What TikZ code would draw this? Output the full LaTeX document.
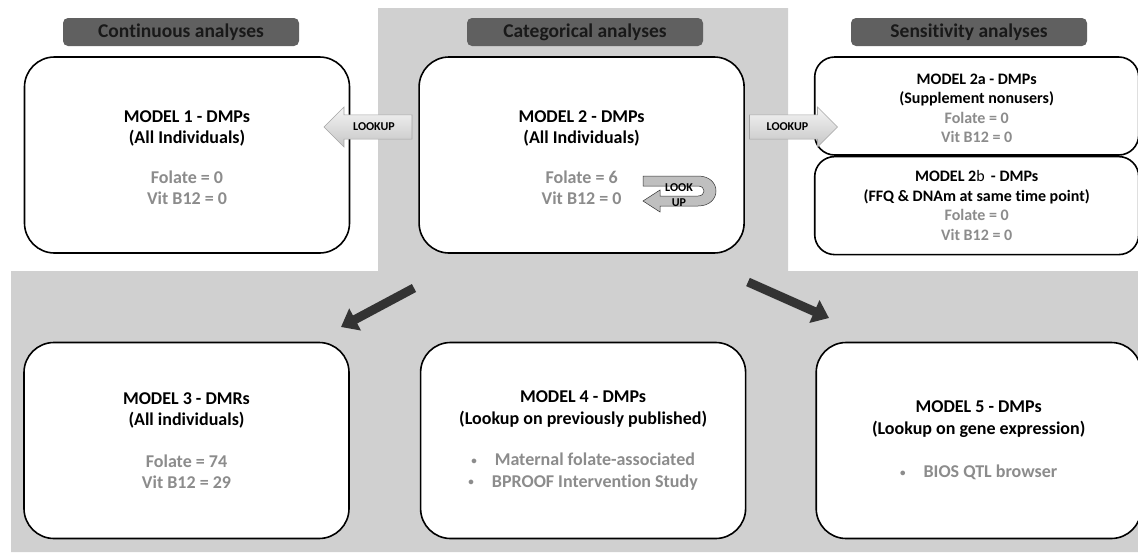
\documentclass[tikz,border=0pt]{standalone}
\usepackage{fontspec}
\setmainfont{Carlito}[Ligatures=NoCommon]
\usepackage{tikz}
\usetikzlibrary{arrows.meta,positioning,calc,shapes.arrows}
\definecolor{bgband}{HTML}{D0D0D0}
\definecolor{hdfill}{HTML}{606060}
\definecolor{valgray}{HTML}{8C8C8C}
\definecolor{arrdark}{HTML}{333333}
\newcommand{\bul}{\raisebox{1.5pt}{\fontsize{11}{11}\selectfont\textbullet}\quad}

\begin{document}
\begin{tikzpicture}[
  x=1pt, y=-1pt,
  node distance=69pt,
  model/.style={rectangle, rounded corners=30pt, draw=black, line width=1.6pt, fill=white,
                minimum width=325pt, minimum height=196pt, align=center,
                font=\fontsize{18}{21.5}\selectfont\bfseries},
  submodel/.style={model, rounded corners=20pt, minimum width=324pt, minimum height=98pt,
                   font=\fontsize{16}{19.5}\selectfont\bfseries},
  header/.style={rectangle, rounded corners=5pt, fill=hdfill, minimum width=236pt, minimum height=28pt,
                 font=\fontsize{19.5}{22}\selectfont\bfseries, text=black!90},
  lookup/.style={single arrow, draw=gray!70, top color=gray!8, bottom color=gray!45, line width=0.6pt,
                 minimum height=88pt, minimum width=40pt, text height=6pt, text depth=0pt,
                 inner xsep=2pt, inner ysep=7.5pt, font=\fontsize{12}{12}\selectfont\bfseries},
  bigarr/.style={-{Triangle[length=16pt,width=24pt]}, line width=9pt, draw=arrdark}
]
\useasboundingbox (0,0) rectangle (1138,552);
\fill[bgband] (378,8) -- (788,8) -- (788,271) -- (1138,271) -- (1138,552) -- (11,552) -- (11,271) -- (378,271) -- cycle;

\node[header] (h1) at (181,32) {Continuous analyses};
\node[header] (h2) at (585,32) {Categorical analyses};
\node[header] (h3) at (969,32) {Sensitivity analyses};

\node[model] (m1) at (187,155) {\rule{0pt}{17pt}MODEL 1 - DMPs\\(All Individuals)\\[18pt]\color{valgray}Folate = 0\\\color{valgray}Vit B12 = 0};
\node[model, right=68pt of m1] (m2) {\rule{0pt}{17pt}MODEL 2 - DMPs\\(All Individuals)\\[18pt]\color{valgray}Folate = 6\\\color{valgray}Vit B12 = 0};
\node[submodel, anchor=north west] (m2a) at ([xshift=69pt]m2.north east) {\rule{0pt}{15pt}MODEL 2a - DMPs\\(Supplement nonusers)\\\color{valgray}Folate = 0\\\color{valgray}Vit B12 = 0};
\node[submodel, below=0pt of m2a] (m2b) {MODEL 2{\mdseries b}\, - DMPs\\(FFQ \& DNAm at same time point)\\\color{valgray}Folate = 0\\\color{valgray}Vit B12 = 0};

\node[model] (m3) at (186.5,440.5) {MODEL 3 - DMRs\\(All individuals)\\[20pt]\color{valgray}Folate = 74\\\color{valgray}Vit B12 = 29};
\node[model, right=70pt of m3] (m4) {MODEL 4 - DMPs\\(Lookup on previously published)\\[20pt]\color{valgray}\bul Maternal folate-associated\\\color{valgray}\bul BPROOF Intervention Study};
\node[model, right=of m4] (m5) {MODEL 5 - DMPs\\(Lookup on gene expression)\\[22pt]\color{valgray}\bul BIOS QTL browser};

\node[lookup, shape border rotate=180] (lk1) at (374,127) {LOOKUP};
\node[lookup] (lk2) at (787.5,127) {LOOKUP};

\filldraw[fill=gray!50, draw=gray!40!black, line width=0.5pt]
  (643,176) -- (698,176) .. controls (722,176) and (722,206) .. (698,206) -- (660,206) -- (660,212)
  -- (643,201) -- (660,190) -- (660,196) -- (698,196) .. controls (706,196) and (706,186) .. (698,186)
  -- (643,186) -- cycle;
\node[align=center, font=\fontsize{12}{15}\selectfont\bfseries, inner sep=0pt] (lkself) at (679,195) {LOOK\\UP};

\coordinate (dl0) at (414,288);
\coordinate (dl1) at (341,327);
\coordinate (dr0) at (748,282);
\coordinate (dr1) at (829,318);
\foreach \a/\b in {dl0/dl1, dr0/dr1} \draw[bigarr] (\a) -- (\b);
\end{tikzpicture}
\end{document}
